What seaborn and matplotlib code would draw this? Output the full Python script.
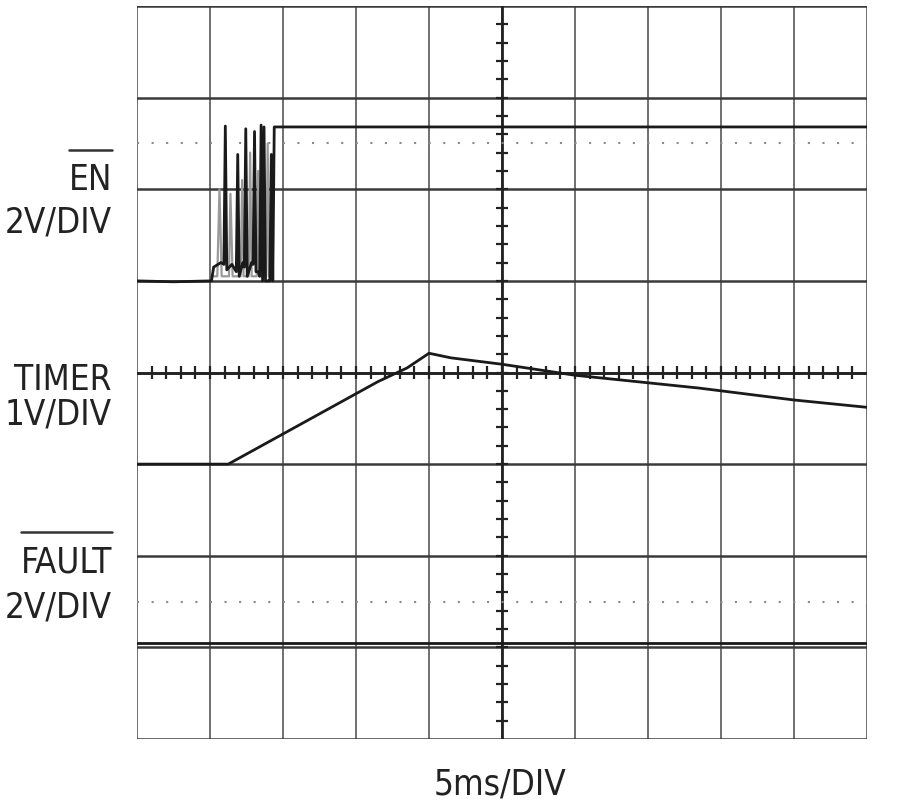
import numpy as np
import pandas as pd
import matplotlib
matplotlib.use("Agg")
import matplotlib.pyplot as plt
import seaborn as sns
from matplotlib.lines import Line2D

# time in divisions (5ms/DIV), level in divisions from bottom of screen
en_t = [0.0, 0.5, 1.02, 1.05, 1.15, 1.19, 1.21, 1.23, 1.30, 1.36, 1.38, 1.40, 1.45,
        1.47, 1.49, 1.51, 1.57, 1.59, 1.61, 1.63, 1.66, 1.68, 1.70, 1.72, 1.74,
        1.76, 1.80, 1.82, 1.84, 1.86, 1.88, 10.0]
en_v = [5.0, 4.99, 5.0, 5.15, 5.2, 5.18, 6.69, 5.12, 5.18, 5.1, 6.38, 5.05, 5.2,
        5.15, 6.66, 5.05, 5.2, 5.18, 6.63, 5.1, 5.1, 5.05, 6.7, 5.0, 6.68,
        5.0, 5.0, 5.0, 6.38, 5.0, 6.68, 6.68]

# persistence (grey) copy of the EN burst
en_ghost_t = [1.05, 1.10, 1.13, 1.16, 1.26, 1.28, 1.31, 1.42, 1.44, 1.46, 1.53, 1.55,
              1.57, 1.64, 1.66, 1.68, 1.77, 1.79, 1.81]
en_ghost_v = [5.05, 5.05, 6.0, 5.05, 5.05, 5.95, 5.05, 5.05, 6.1, 5.05, 5.05, 6.4,
              5.05, 5.05, 6.2, 5.05, 5.05, 6.5, 5.05]

timer_t = [0.0, 1.25, 3.3, 3.7, 4.0, 4.3, 5.0, 6.0, 7.7, 9.0, 10.0]
timer_v = [3.0, 3.0, 3.9, 4.05, 4.21, 4.16, 4.09, 3.97, 3.83, 3.70, 3.62]

fault_t = [0.0, 10.0]
fault_v = [1.05, 1.05]

ref_levels = [6.5, 1.5]

labels = [("EN", 6.10, True), ("2V/DIV", 5.64, False),
          ("TIMER", 3.92, False), ("1V/DIV", 3.54, False),
          ("FAULT", 1.93, True), ("2V/DIV", 1.44, False)]

sns.set_style("white")
plt.rcParams['font.family'] = ['DejaVu Sans']
plt.rcParams['font.stretch'] = 'condensed'

fig = plt.figure(figsize=(9, 8.06), dpi=100)
ax = fig.add_axes([137 / 900, 1 - 739 / 806, 730 / 900, 733 / 806])
ax.set_xlim(0, 10)
ax.set_ylim(0, 8)

# graticule
for x in range(11):
    ax.axvline(x, color="#707070", lw=1.4, zorder=1)
for y in range(9):
    ax.axhline(y, color="#3a3a3a", lw=1.8, zorder=1)
ax.axvline(5, color="#222222", lw=2.0, zorder=1)
ax.axhline(4, color="#222222", lw=2.0, zorder=1)
minor = np.arange(0.2, 10, 0.2)
ax.vlines(minor, 4 - 0.075, 4 + 0.075, color="#222222", lw=1.6, zorder=1)
minor_y = np.arange(0.2, 8, 0.2)
ax.hlines(minor_y, 5 - 0.08, 5 + 0.08, color="#222222", lw=1.6, zorder=1)
for lv in ref_levels:
    ax.axhline(lv, color="#8a8a8a", lw=1.5, ls=(0, (1, 6)), zorder=1)

for s in ax.spines.values():
    s.set_visible(False)
ax.set_xticks([])
ax.set_yticks([])

# traces
ghost = pd.DataFrame({"t": en_ghost_t, "v": en_ghost_v})
sns.lineplot(data=ghost, x="t", y="v", ax=ax, color="#9a9a9a", lw=1.6,
             sort=False, estimator=None, zorder=2)
for t, v in [(en_t, en_v), (timer_t, timer_v), (fault_t, fault_v)]:
    df = pd.DataFrame({"t": t, "v": v})
    sns.lineplot(data=df, x="t", y="v", ax=ax, color="#1a1a1a", lw=2.0,
                 sort=False, estimator=None, zorder=3)
ax.set_xlabel("")
ax.set_ylabel("")

# pick a font size so that "2V/DIV" is about 107 px wide, as in the reference
probe = fig.text(0, 0, "2V/DIV", fontsize=27)
fig.canvas.draw()
w = probe.get_window_extent().width
probe.remove()
fs = min(27, 27 * 107 / w)

for txt, lv, bar in labels:
    yf = (1 - 739 / 806) + lv / 8 * (733 / 806)
    t = fig.text(112 / 900, yf, txt, ha="right", va="center", fontsize=fs,
                 color="#222222")
    if bar:
        fig.canvas.draw()
        bb = t.get_window_extent()
        x0, x1 = bb.x0 / fig.bbox.width, bb.x1 / fig.bbox.width
        ytop = (bb.y1 + 13) / fig.bbox.height
        fig.add_artist(Line2D([x0, x1], [ytop, ytop], color="#333333", lw=1.8))

fig.text(500 / 900, 1 - 785 / 806, "5ms/DIV", ha="center", va="center",
         fontsize=fs, color="#222222")

fig.savefig("out.png", dpi=100)
